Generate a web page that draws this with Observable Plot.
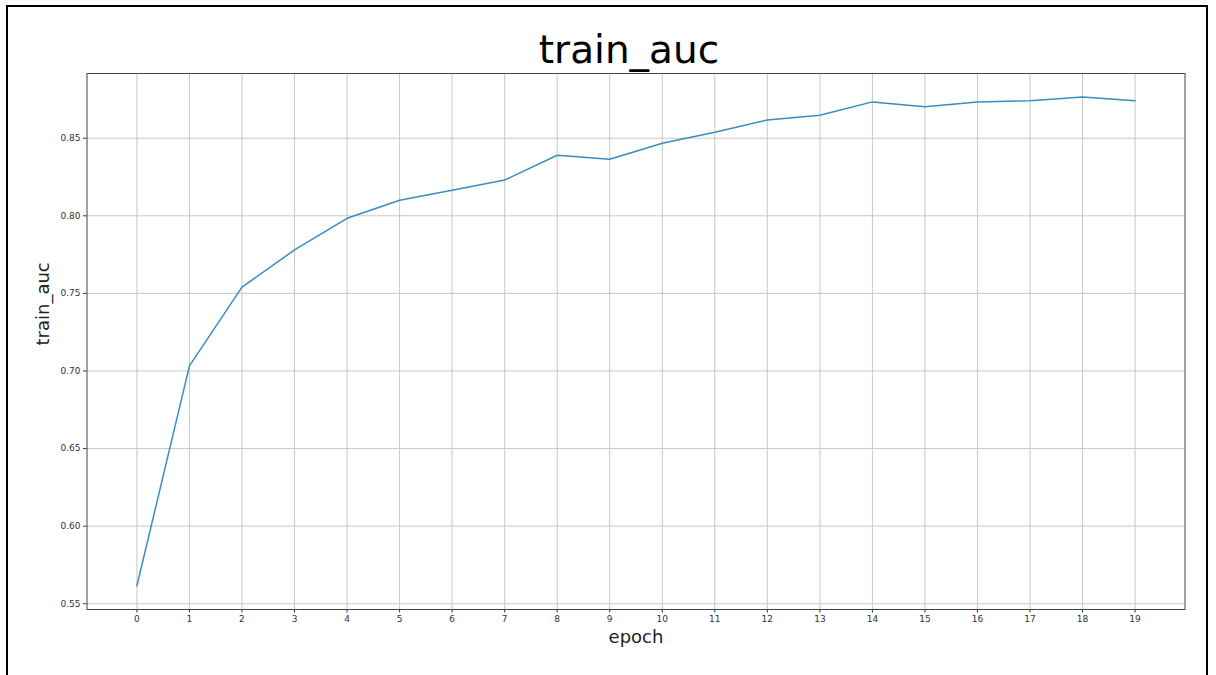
<!DOCTYPE html>
<html>
<head>
<meta charset="utf-8">
<script src="https://cdn.jsdelivr.net/npm/d3@7"></script>
<script src="https://cdn.jsdelivr.net/npm/@observablehq/plot@0.6"></script>
<style>
  html, body { margin: 0; padding: 0; background: #fff; overflow: hidden; }
  #wrap { position: relative; width: 1216px; height: 675px; overflow: hidden; font-family: "DejaVu Sans", sans-serif; }
  #border { position: absolute; left: 6px; top: 5px; width: 1198px; height: 700px; border: 2.5px solid #000; }
  #chart { position: absolute; left: 0; top: 0; }
</style>
</head>
<body>
<div id="wrap">
  <div id="border"></div>
  <div id="chart"></div>
</div>
<script>
const epochs = [0,1,2,3,4,5,6,7,8,9,10,11,12,13,14,15,16,17,18,19];
const trainAuc = [0.5616,0.7033,0.7540,0.7780,0.7984,0.8100,0.8165,0.8230,0.8390,0.8364,0.8467,0.8538,0.8618,0.8648,0.8734,0.8702,0.8734,0.8741,0.8765,0.8741];
const yTicks = [0.55,0.60,0.65,0.70,0.75,0.80,0.85];
const titleText = "train_auc";
const xLabel = "epoch";
const yLabel = "train_auc";

const data = epochs.map((e, i) => ({epoch: e, auc: trainAuc[i]}));

const chart = Plot.plot({
  width: 1216,
  height: 675,
  marginLeft: 86.5,
  marginRight: 31.5,
  marginTop: 73,
  marginBottom: 66,
  style: {fontFamily: "DejaVu Sans, sans-serif", background: "transparent", color: "#333"},
  x: {domain: [-0.95, 19.95]},
  y: {domain: [0.5463, 0.8917]},
  marks: [
    Plot.gridX(epochs, {stroke: "#c8c8c8", strokeOpacity: 1, strokeWidth: 1}),
    Plot.gridY(yTicks, {stroke: "#c8c8c8", strokeOpacity: 1, strokeWidth: 1}),
    Plot.axisX(epochs, {tickSize: 3.5, tickPadding: 3, fontSize: 9, label: null, stroke: "#333", fill: "#333"}),
    Plot.axisY(yTicks, {tickSize: 3.5, tickPadding: 3, fontSize: 9, label: null, tickFormat: d3.format(".2f"), stroke: "#333", fill: "#333"}),
    Plot.lineY(data, {x: "epoch", y: "auc", stroke: "#3b8bc4", strokeWidth: 1.5}),
    Plot.frame({stroke: "#444", strokeWidth: 1}),
    Plot.text([titleText], {frameAnchor: "top", dx: -7, dy: -11, lineAnchor: "bottom", fontSize: 39, fill: "#000"}),
    Plot.text([xLabel], {frameAnchor: "bottom", dy: 28, lineAnchor: "middle", fontSize: 18, fill: "#222"}),
    Plot.text([yLabel], {frameAnchor: "left", dx: -44, dy: 4, rotate: -90, lineAnchor: "middle", fontSize: 18, fill: "#222"})
  ]
});
document.getElementById("chart").appendChild(chart);
</script>
</body>
</html>
